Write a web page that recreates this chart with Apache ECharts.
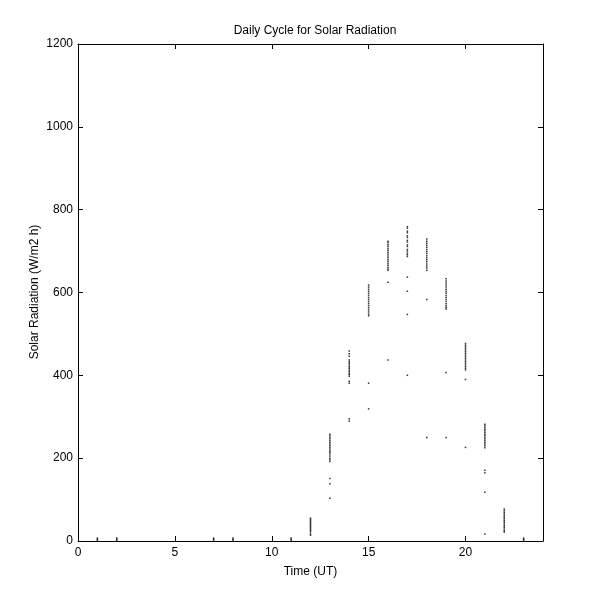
<!DOCTYPE html>
<html>
<head>
<meta charset="utf-8">
<title>Daily Cycle for Solar Radiation</title>
<script src="https://cdn.jsdelivr.net/npm/echarts@6/dist/echarts.min.js"></script>
<style>
  html, body { margin: 0; padding: 0; background: #fff; }
  #main { width: 600px; height: 610px; }
</style>
</head>
<body>
<div id="main"></div>
<script>
// readings per hour (W/m2 h)
var hours = [1, 2, 7, 8, 11, 12, 13, 14, 15, 16, 17, 18, 19, 20, 21, 22, 23]
var h1 = [7, 4, 2]
var h2 = [7, 4, 2]
var h7 = [7, 4, 2]
var h8 = [7, 4, 2]
var h11 = [7, 4, 2]
var h12 = [55, 52, 49, 46, 43, 40, 37, 34, 31, 28, 25, 22, 17, 14]
var h13 = [258, 254, 250, 246, 242, 238, 234, 230, 226, 222, 218, 214, 210, 205, 200, 196, 192, 151, 138, 103]
var h14 = [459, 452, 446, 437, 433, 429, 425, 421, 417, 413, 409, 405, 402, 398, 386, 381, 295, 290]
var h15 = [618, 613, 608, 603, 598, 593, 588, 583, 578, 573, 568, 563, 558, 553, 548, 544, 381, 319]
var h16 = [724, 720, 715, 711, 706, 702, 697, 693, 688, 684, 679, 675, 670, 666, 661, 657, 654, 625, 437]
var h17 = [759, 755, 748, 744, 737, 733, 726, 722, 715, 711, 704, 700, 695, 691, 687, 637, 603, 547, 400]
var h18 = [729, 724, 719, 714, 709, 704, 699, 694, 689, 684, 679, 674, 669, 664, 659, 654, 583, 250]
var h19 = [633, 628, 623, 618, 613, 608, 603, 598, 593, 588, 583, 578, 573, 568, 564, 560, 407, 250]
var h20 = [477, 473, 469, 465, 461, 457, 453, 449, 445, 441, 437, 433, 429, 425, 421, 417, 413, 390, 226]
var h21 = [282, 278, 274, 270, 266, 262, 258, 254, 250, 246, 242, 238, 234, 230, 225, 171, 165, 118, 17]
var h22 = [77, 73, 69, 65, 61, 57, 53, 49, 45, 41, 37, 33, 29, 25, 22]
var h23 = [7, 4, 2]
var readings = [h1, h2, h7, h8, h11, h12, h13, h14, h15, h16, h17, h18, h19, h20, h21, h22, h23]

var xTicks = [0, 5, 10, 15, 20]
var yTicks = [0, 200, 400, 600, 800, 1000, 1200]

var points = []
for (var i = 0; i < hours.length; i++) {
  for (var j = 0; j < readings[i].length; j++) {
    points.push([hours[i], readings[i][j]])
  }
}

var font = 'Liberation Sans, Arial, sans-serif'
var black = '#000'

// axis used for the frame on top / right (ticks only)
function frameAxis (pos, isX) {
  return {
    type: 'value',
    position: pos,
    min: 0,
    max: isX ? 24 : 1200,
    interval: isX ? 5 : 200,
    axisLine: { show: true, onZero: false, lineStyle: { color: black, width: 1 } },
    axisTick: { show: true, inside: true, length: 5, lineStyle: { color: black } },
    axisLabel: { show: false },
    splitLine: { show: false }
  }
}

var chart = echarts.init(document.getElementById('main'))
chart.setOption({
  backgroundColor: '#fff',
  animation: false,
  title: {
    text: 'Daily Cycle for Solar Radiation',
    left: 310,
    top: 20,
    textAlign: 'center',
    textStyle: { fontFamily: font, fontSize: 12, fontWeight: 'normal', color: black }
  },
  // y axis title placed by hand (rotated)
  graphic: [
    {
      type: 'text',
      x: 35,
      y: 292,
      rotation: Math.PI / 2,
      style: {
        text: 'Solar Radiation (W/m2 h)',
        fontFamily: font,
        fontSize: 12,
        fill: black,
        align: 'center',
        verticalAlign: 'middle'
      }
    }
  ],
  grid: { left: 78, right: 57, top: 44, bottom: 69, containLabel: false },
  xAxis: [
    {
      type: 'value',
      position: 'bottom',
      min: 0,
      max: 24,
      interval: 5,
      name: 'Time (UT)',
      nameLocation: 'middle',
      nameGap: 25,
      nameTextStyle: { fontFamily: font, fontSize: 12, color: black },
      axisLine: { show: true, onZero: false, lineStyle: { color: black, width: 1 } },
      axisTick: { show: true, inside: true, length: 5, lineStyle: { color: black } },
      axisLabel: {
        fontFamily: font, fontSize: 12, color: black, margin: 6, showMaxLabel: false,
        formatter: function (v) { return xTicks.indexOf(v) >= 0 ? String(v) : '' }
      },
      splitLine: { show: false }
    },
    frameAxis('top', true)
  ],
  yAxis: [
    {
      type: 'value',
      position: 'left',
      min: 0,
      max: 1200,
      interval: 200,
      axisLine: { show: true, onZero: false, lineStyle: { color: black, width: 1 } },
      axisTick: { show: true, inside: true, length: 5, lineStyle: { color: black } },
      axisLabel: {
        fontFamily: font, fontSize: 12, color: black, margin: 5,
        formatter: function (v) { return yTicks.indexOf(v) >= 0 ? String(v) : '' }
      },
      splitLine: { show: false }
    },
    frameAxis('right', false)
  ],
  series: [
    {
      type: 'scatter',
      xAxisIndex: 0,
      yAxisIndex: 0,
      data: points,
      symbol: 'rect',
      symbolSize: 1.5,
      itemStyle: { color: black },
      silent: true
    }
  ]
})
</script>
</body>
</html>
